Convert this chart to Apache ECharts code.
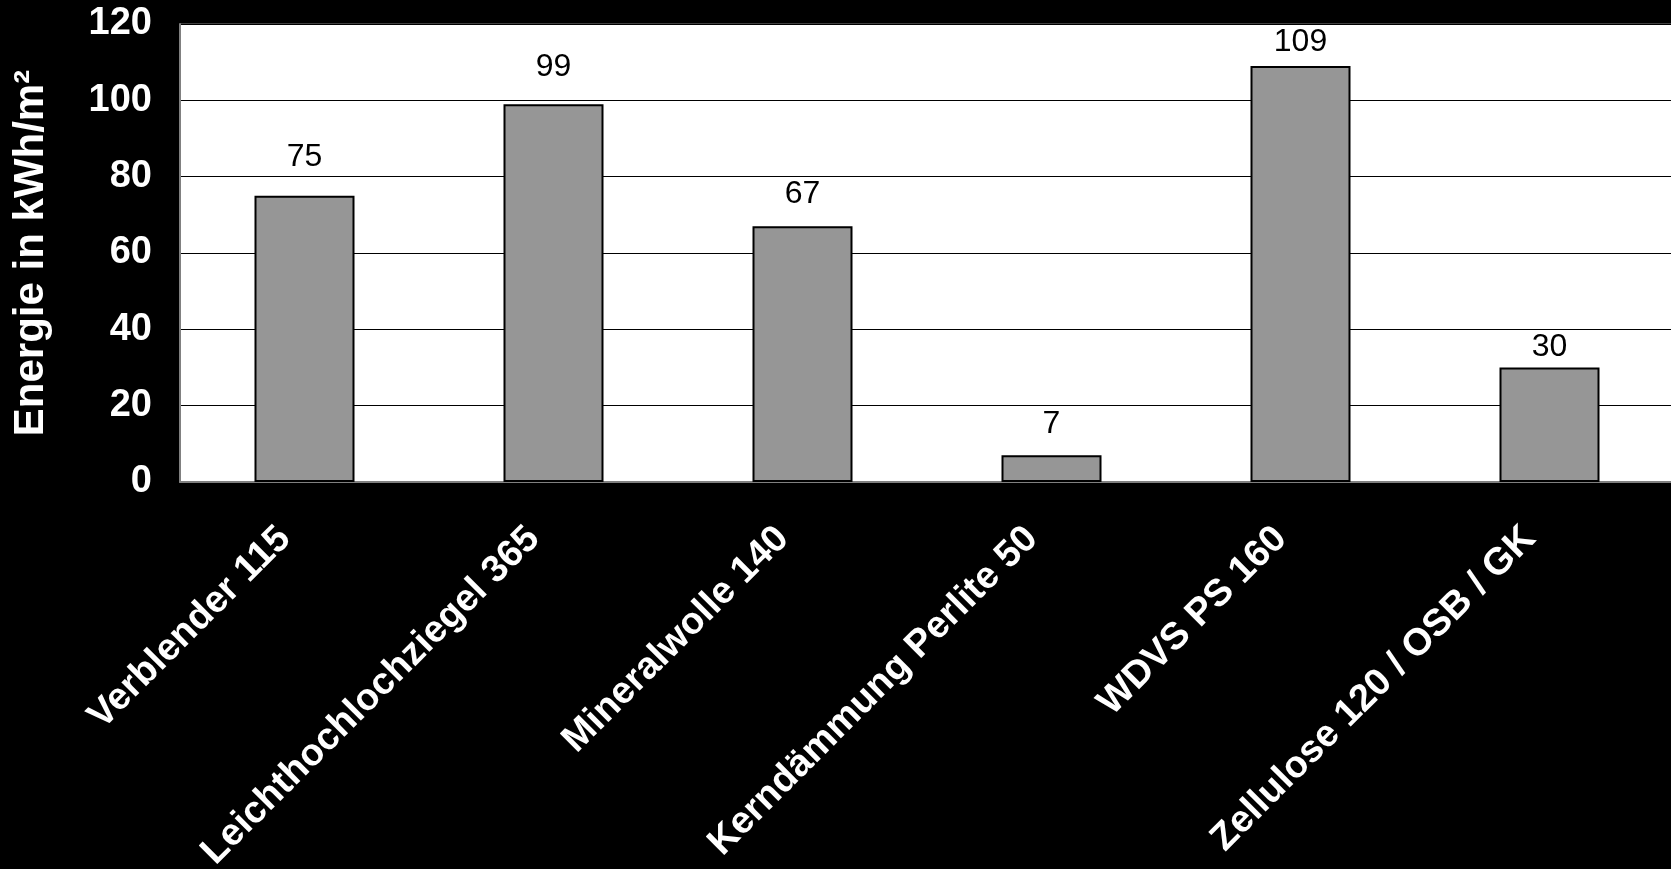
<!DOCTYPE html>
<html>
<head>
<meta charset="utf-8">
<script src="https://cdn.jsdelivr.net/npm/echarts@6/dist/echarts.min.js"></script>
<style>
html, body { margin: 0; padding: 0; background: #000; }
#chart { width: 1671px; height: 869px; }
</style>
</head>
<body>
<div id="chart"></div>
<script>
const categories = ['Verblender 115', 'Leichthochlochziegel 365', 'Mineralwolle 140', 'Kerndämmung Perlite 50', 'WDVS PS 160', 'Zellulose 120 / OSB / GK'];
const values = [75, 99, 67, 7, 109, 30];
const yTicks = { min: 0, max: 120, interval: 20 };
const yAxisTitle = 'Energie in kWh/m²';

// label gaps above each bar (style, as placed in the original)
const labelDistances = [23, 21, 16, 15, 8, 4];

const FONT = '"Liberation Sans", Arial, sans-serif';
const chart = echarts.init(document.getElementById('chart'));
chart.setOption({
  backgroundColor: '#000',
  animation: false,
  grid: {
    left: 180, top: 24, width: 1494, height: 458,
    outerBoundsMode: 'none', containLabel: false,
    show: true, backgroundColor: '#fff', borderColor: '#808080', borderWidth: 1
  },
  xAxis: {
    type: 'category',
    data: categories,
    axisLine: { show: true, lineStyle: { color: '#808080', width: 2 } },
    axisTick: { show: false },
    axisLabel: {
      interval: 0, rotate: 45, margin: 31, padding: [0, 28, 0, 0],
      color: '#fff', fontFamily: FONT, fontWeight: 'bold', fontSize: 38
    }
  },
  yAxis: {
    type: 'value',
    min: yTicks.min, max: yTicks.max, interval: yTicks.interval,
    name: yAxisTitle,
    nameLocation: 'middle',
    nameGap: 128,
    nameTextStyle: { color: '#fff', fontFamily: FONT, fontWeight: 'bold', fontSize: 42 },
    axisLine: { show: true, lineStyle: { color: '#808080', width: 2 } },
    axisTick: { show: false },
    axisLabel: { margin: 28, color: '#fff', fontFamily: FONT, fontWeight: 'bold', fontSize: 38 },
    splitLine: { show: true, lineStyle: { color: '#000', width: 1 } }
  },
  series: [{
    type: 'bar',
    data: values.map((v, i) => ({ value: v, label: { distance: labelDistances[i] } })),
    barWidth: 100,
    itemStyle: { color: '#969696', borderColor: '#000', borderWidth: 2 },
    label: {
      show: true, position: 'top',
      color: '#000', fontFamily: FONT, fontSize: 32
    }
  }]
});
</script>
</body>
</html>
